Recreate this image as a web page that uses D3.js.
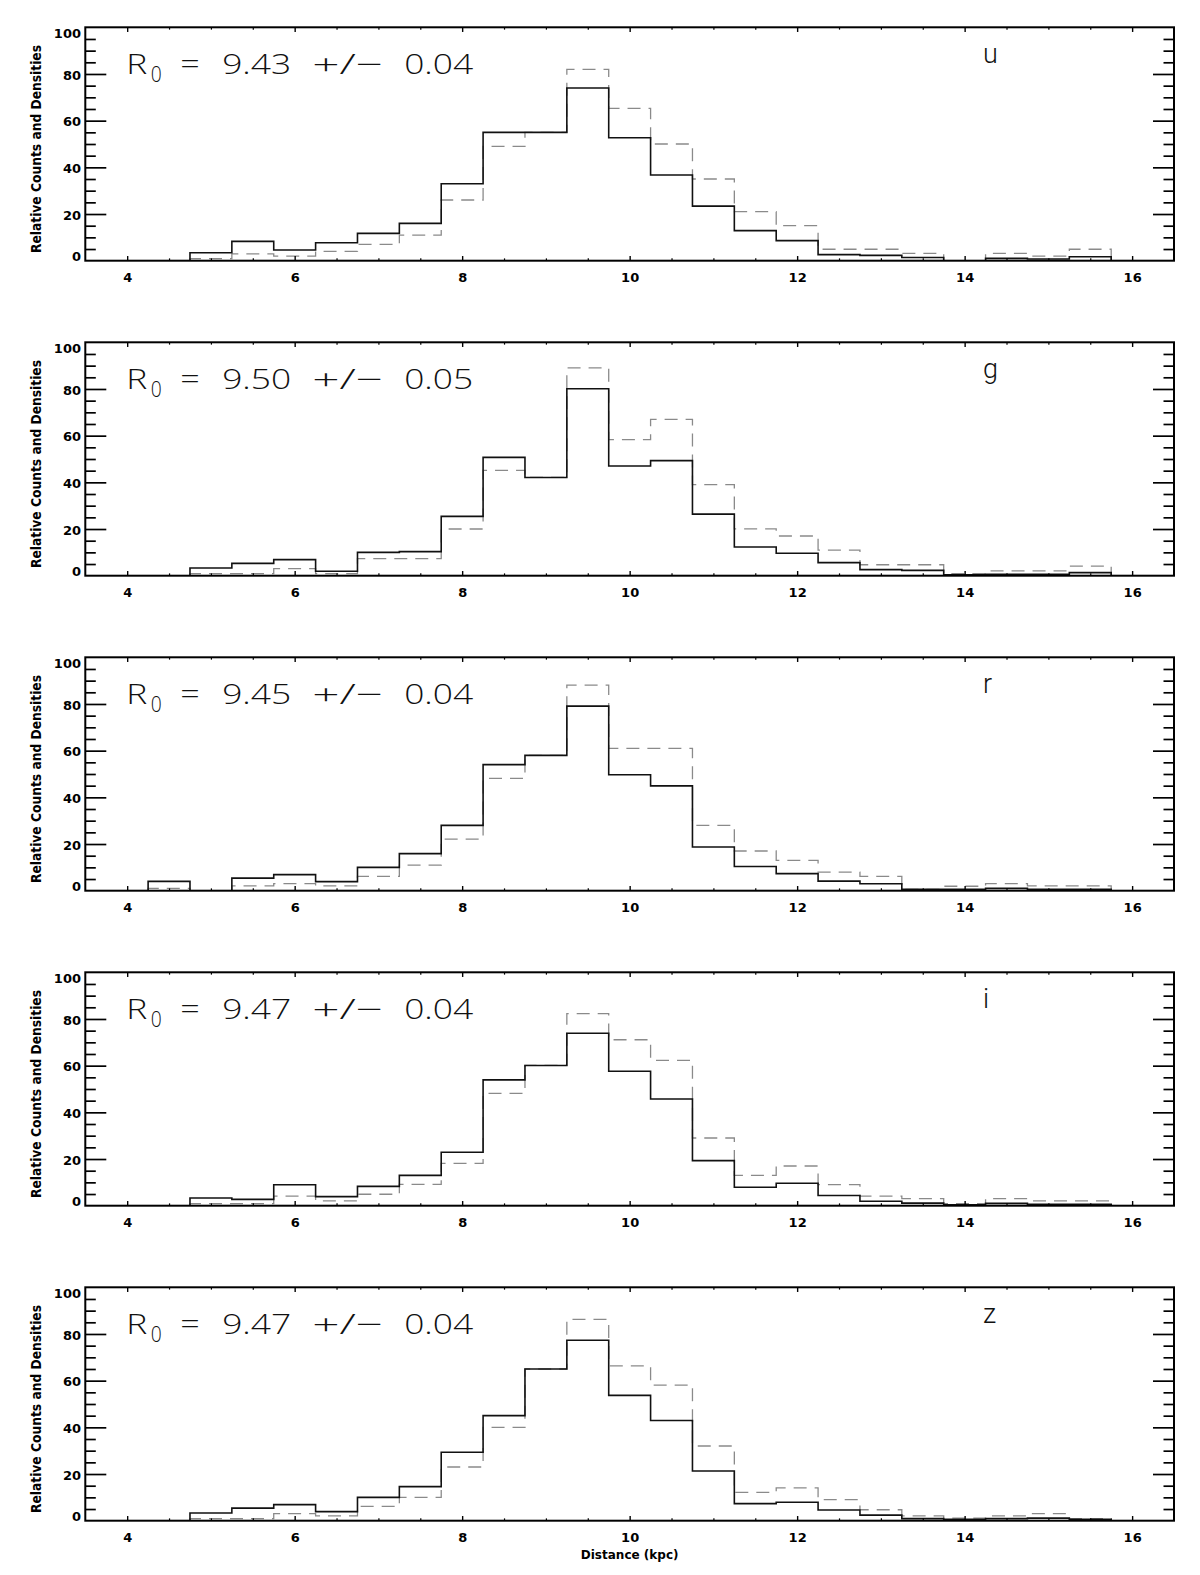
<!DOCTYPE html>
<html>
<head>
<meta charset="utf-8">
<script src="https://cdn.jsdelivr.net/npm/d3@7"></script>
<style>
  html, body { margin: 0; padding: 0; background: #fff; }
  svg { display: block; }
</style>
</head>
<body>
<svg id="chart" width="1200" height="1575"></svg>
<script>
// ---------------- DATA ----------------
const binCenters = [4.5, 5.0, 5.5, 6.0, 6.5, 7.0, 7.5, 8.0, 8.5, 9.0, 9.5, 10.0, 10.5, 11.0, 11.5, 12.0, 12.5, 13.0, 13.5, 14.0, 14.5, 15.0, 15.5];
const binWidth = 0.5;

const bands = ["u", "g", "r", "i", "z"];
const r0Values = ["9.43", "9.50", "9.45", "9.47", "9.47"];
const r0Errors = ["0.04", "0.05", "0.04", "0.04", "0.04"];

// solid: relative counts, dashed: densities
const uSolid  = [0, 3.4, 8.3, 4.6, 7.7, 11.7, 16, 33, 55, 55, 74, 52.7, 36.7, 23.4, 12.9, 8.6, 2.6, 2.3, 1.4, 0, 1, 0.7, 1.7];
const uDashed = [0, 0.9, 2.9, 2, 4, 7, 11, 26, 49, 55, 82, 65.3, 50, 35, 21, 15, 4.9, 4.9, 3.1, 0, 3.1, 2, 4.9];
const gSolid  = [0, 3.3, 5.3, 6.9, 1.9, 10, 10.3, 25.4, 50.7, 42.1, 80.1, 47, 49.3, 26.4, 12.3, 9.6, 5.6, 2.6, 2.3, 0.4, 0.6, 0.6, 1.3];
const gDashed = [0, 0.9, 0.9, 3, 0.9, 7.3, 7.3, 20, 45.1, 42.1, 89, 58.3, 67, 39, 20.1, 17, 11, 4.7, 4.7, 0.9, 2.1, 2.1, 4.1];
const rSolid  = [4, 0, 5.4, 6.9, 3.9, 10, 15.9, 28, 54, 58, 79.1, 49.7, 44.9, 18.7, 10.4, 7.3, 4.1, 3, 0.6, 0.6, 1, 0.6, 0.6];
const rDashed = [1, 0, 2.1, 3, 2.1, 6.1, 11, 22.1, 48.1, 58, 88.1, 61, 61, 28, 17, 13, 8, 6.1, 0.6, 1.9, 3, 2.1, 2.1];
const iSolid  = [0, 3.3, 2.7, 9, 3.9, 8.3, 13, 22.9, 53.9, 60.1, 73.9, 57.6, 45.7, 19.3, 7.9, 9.6, 4.4, 1.9, 1.1, 0.4, 1, 0.6, 0.6];
const iDashed = [0, 0.9, 0.9, 4.1, 2.1, 4.9, 9.1, 18.1, 48.1, 60.1, 82.3, 71.1, 62.3, 29, 13, 17, 9, 4.1, 3, 0.9, 3, 2.1, 2.1];
const zSolid  = [0, 3.3, 5.4, 6.9, 3.9, 10, 14.6, 29.3, 45, 65, 77.3, 53.7, 42.9, 21.3, 7.3, 7.9, 4.6, 2.4, 0.9, 0.6, 0.9, 1.1, 0.6];
const zDashed = [0, 0.9, 0.9, 3, 2.1, 6.1, 10, 23, 40, 65, 86.3, 66.3, 58.1, 32, 12.1, 14.1, 9, 4.7, 2.1, 1.1, 2.1, 3, 0.9];

const solidSeries  = [uSolid, gSolid, rSolid, iSolid, zSolid];
const dashedSeries = [uDashed, gDashed, rDashed, iDashed, zDashed];

const xMajorTicks = [4, 6, 8, 10, 12, 14, 16];
const xMinorTicks = [4.5, 5, 5.5, 6.5, 7, 7.5, 8.5, 9, 9.5, 10.5, 11, 11.5, 12.5, 13, 13.5, 14.5, 15, 15.5];
const yMajorTicks = [0, 20, 40, 60, 80, 100];
const yMinorTicks = [5, 10, 15, 25, 30, 35, 45, 50, 55, 65, 70, 75, 85, 90, 95];
const xDomain = [3.5, 16.5];
const yDomain = [0, 100];

const xTitle = "Distance (kpc)";
const yTitle = "Relative Counts and Densities";

// ---------------- LAYOUT ----------------
const svg = d3.select("#chart");
svg.append("rect").attr("width", 1200).attr("height", 1575).attr("fill", "#fff");

const plotLeft = 85.3, plotRight = 1174;
const plotH = 233.4, firstTop = 27.3, panelStep = 315;
const plotW = plotRight - plotLeft;

const x = d3.scaleLinear().domain(xDomain).range([0, plotW]);
const y = d3.scaleLinear().domain(yDomain).range([plotH, 0]);

const tickFont = "'DejaVu Sans', sans-serif";
const annFont = "'Open Sans', 'DejaVu Sans', sans-serif";
const bandFont = "Roboto, 'DejaVu Sans', sans-serif";
const majX = plotH * 0.02, minX = majX / 2;
const majY = 21, minY = 10.5;

function stepPoints(values) {
  const pts = [];
  pts.push([binCenters[0] - binWidth / 2, 0]);
  values.forEach((v, i) => pts.push([binCenters[i] - binWidth / 2, v]));
  const last = binCenters.length - 1;
  pts.push([binCenters[last] + binWidth / 2, values[last]]);
  pts.push([binCenters[last] + binWidth / 2, 0]);
  return pts;
}
const line = d3.line().x(d => x(d[0])).y(d => y(d[1])).curve(d3.curveStepAfter);

function styleAxis(g, strokeW) {
  g.select(".domain").remove();
  g.selectAll(".tick line").attr("stroke", "#000").attr("stroke-width", strokeW);
}

bands.forEach((band, p) => {
  const top = firstTop + p * panelStep;
  const g = svg.append("g").attr("transform", `translate(${plotLeft},${top})`);

  const clipId = "clip" + p;
  g.append("clipPath").attr("id", clipId).append("rect")
    .attr("x", 0).attr("y", -2).attr("width", plotW).attr("height", plotH + 2);

  // dashed (densities)
  g.append("path")
    .attr("clip-path", `url(#${clipId})`)
    .attr("d", line(stepPoints(dashedSeries[p])))
    .attr("fill", "none").attr("stroke", "#8a8a8a").attr("stroke-width", 1.3)
    .attr("stroke-dasharray", "13,8");

  // solid (counts)
  g.append("path")
    .attr("clip-path", `url(#${clipId})`)
    .attr("d", line(stepPoints(solidSeries[p])))
    .attr("fill", "none").attr("stroke", "#111").attr("stroke-width", 1.6);

  // bottom axis major with labels
  const bx = g.append("g").attr("transform", `translate(0,${plotH})`)
    .call(d3.axisBottom(x).tickValues(xMajorTicks).tickSize(-majX).tickPadding(12).tickFormat(d3.format("d")));
  styleAxis(bx, 1.4);
  bx.selectAll("text").attr("font-family", tickFont).attr("font-weight", "bold")
    .attr("font-size", 13).attr("fill", "#000");
  const bxm = g.append("g").attr("transform", `translate(0,${plotH})`)
    .call(d3.axisBottom(x).tickValues(xMinorTicks).tickSize(-minX).tickFormat(""));
  styleAxis(bxm, 1.2);

  // top axis
  const tx = g.append("g").call(d3.axisTop(x).tickValues(xMajorTicks).tickSize(-majX).tickFormat(""));
  styleAxis(tx, 1.4);
  const txm = g.append("g").call(d3.axisTop(x).tickValues(xMinorTicks).tickSize(-minX).tickFormat(""));
  styleAxis(txm, 1.2);

  // left axis
  const ly = g.append("g").call(d3.axisLeft(y).tickValues(yMajorTicks.filter(v => v > 0 && v < 100)).tickSize(-majY).tickFormat(""));
  styleAxis(ly, 1.7);
  const lyl = g.append("g").call(d3.axisLeft(y).tickValues(yMajorTicks).tickSize(0).tickPadding(4.3).tickFormat(d3.format("d")));
  lyl.select(".domain").remove();
  lyl.selectAll("text").attr("font-family", tickFont).attr("font-weight", "bold")
    .attr("font-size", 13).attr("fill", "#000")
    .attr("y", d => d === 100 ? 6 : (d === 0 ? -4 : 1));
  const lym = g.append("g").call(d3.axisLeft(y).tickValues(yMinorTicks).tickSize(-minY).tickFormat(""));
  styleAxis(lym, 1.7);

  // right axis
  const ry = g.append("g").attr("transform", `translate(${plotW},0)`)
    .call(d3.axisRight(y).tickValues(yMajorTicks.filter(v => v > 0 && v < 100)).tickSize(-majY).tickFormat(""));
  styleAxis(ry, 1.7);
  const rym = g.append("g").attr("transform", `translate(${plotW},0)`)
    .call(d3.axisRight(y).tickValues(yMinorTicks).tickSize(-minY).tickFormat(""));
  styleAxis(rym, 1.7);

  // frame
  g.append("rect").attr("x", 0).attr("y", 0).attr("width", plotW).attr("height", plotH)
    .attr("fill", "none").attr("stroke", "#000").attr("stroke-width", 2);

  // y title
  g.append("text")
    .attr("transform", `translate(${41 - plotLeft},${plotH / 2 + 5}) rotate(-90)`)
    .attr("text-anchor", "middle")
    .attr("font-family", tickFont).attr("font-weight", "bold").attr("font-size", 13.5)
    .attr("textLength", 208).attr("lengthAdjust", "spacingAndGlyphs")
    .attr("fill", "#000")
    .text(yTitle);

  // R0 annotation
  const ann = g.append("g").attr("transform", `translate(${x(4) - 1},46.5)`)
    .attr("font-family", annFont).attr("font-weight", 300)
    .attr("fill", "#111");
  const pieces = [
    { t: "R", dx: 0, w: 21, fs: 27.5 },
    { t: "0", dx: 24.5, w: 11, fs: 22, dy: 8 },
    { t: "=", dx: 54, w: 19.5, fs: 27.5 },
    { t: r0Values[p], dx: 96, w: 69, fs: 27.5 },
    { t: "+/\u2212", dx: 186, w: 71, fs: 27.5 },
    { t: r0Errors[p], dx: 278, w: 69, fs: 27.5 }
  ];
  pieces.forEach(pc => {
    ann.append("text").attr("x", pc.dx).attr("y", pc.dy || 0)
      .attr("font-size", pc.fs)
      .attr("textLength", pc.w).attr("lengthAdjust", "spacingAndGlyphs")
      .text(pc.t);
  });

  // band label
  g.append("text")
    .attr("x", x(14.22)).attr("y", 35.5)
    .attr("font-family", bandFont).attr("font-weight", 300)
    .attr("font-size", 27).attr("fill", "#111")
    .text(band);
});

// x title
svg.append("text")
  .attr("x", plotLeft + plotW / 2).attr("y", 1559)
  .attr("text-anchor", "middle")
  .attr("font-family", tickFont).attr("font-weight", "bold").attr("font-size", 12)
  .attr("fill", "#000")
  .text(xTitle);
</script>
</body>
</html>
